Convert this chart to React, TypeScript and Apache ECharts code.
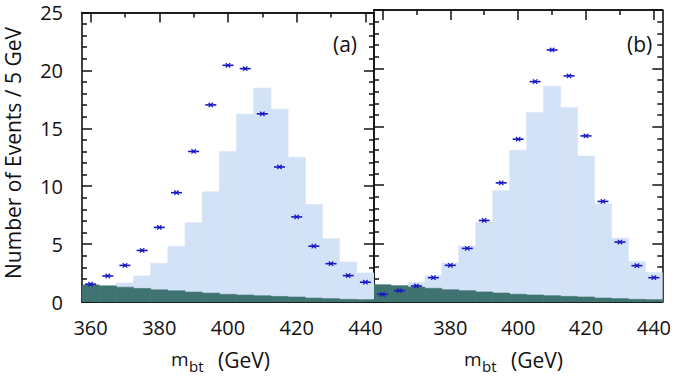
import React, { useEffect, useRef } from "react";
import * as echarts from "echarts";

const BIN_CENTERS = [360, 365, 370, 375, 380, 385, 390, 395, 400, 405, 410, 415, 420, 425, 430, 435, 440];
const TOTAL_MC = [1.4, 1.3, 1.65, 2.25, 3.34, 4.79, 6.84, 9.52, 13.0, 16.22, 18.47, 16.65, 12.49, 8.41, 5.47, 3.45, 2.51];
const BACKGROUND = [1.48, 1.4, 1.28, 1.17, 1.05, 0.97, 0.86, 0.77, 0.66, 0.6, 0.54, 0.48, 0.43, 0.34, 0.29, 0.23, 0.2];
const DATA_A = [1.54, 2.25, 3.16, 4.45, 6.44, 9.44, 13.0, 17.02, 20.44, 20.15, 16.25, 11.66, 7.35, 4.82, 3.31, 2.28, 1.71];
const DATA_B = [0.66, 0.97, 1.37, 2.08, 3.14, 4.59, 6.98, 10.2, 13.94, 18.87, 21.58, 19.36, 14.22, 8.61, 5.13, 3.11, 2.08];
const X_MAJOR = [360, 380, 400, 420, 440];
const X_MINOR = [370, 390, 410, 430];
const X_LABELS_A = [360, 380, 400, 420, 440];
const X_LABELS_B = [380, 400, 420, 440];
const BIN_WIDTH = 5;

const FONT = "Open Sans";
const LIGHT = "#d3e2f7";
const DARK = "#3e7371";
const BLUE = "#1616c4";

export default function App() {
  const ref = useRef<HTMLDivElement>(null);
  useEffect(() => {
    document.body.style.margin = "0";
    const chart = echarts.init(ref.current!, null, { renderer: "svg" });
    const grids = [
      { left: 82, top: 10, width: 292, height: 292 },
      { left: 374, top: 10, width: 292, height: 292 },
    ];
    const axisLine = { show: true, lineStyle: { color: "#111", width: 1.6 } };
    const xAxes: any[] = [];
    const yAxes: any[] = [];
    [0, 1].forEach((g) => {
      const labels = g === 0 ? X_LABELS_A : X_LABELS_B;
      const base = {
        gridIndex: g,
        type: "value",
        min: BIN_CENTERS[0] - BIN_WIDTH / 2,
        max: BIN_CENTERS[BIN_CENTERS.length - 1] + BIN_WIDTH / 2,
        axisLine,
        splitLine: { show: false },
      };
      xAxes.push({
        ...base,
        position: "bottom",
        axisTick: { show: true, inside: true, length: 10, customValues: X_MAJOR, lineStyle: { color: "#111", width: 1.5 } },
        axisLabel: { show: true, customValues: labels, fontSize: 20, fontFamily: FONT, color: "#111", margin: 15 },
      });
      xAxes.push({
        ...base,
        position: "bottom",
        axisTick: { show: true, inside: true, length: 5, customValues: X_MINOR, lineStyle: { color: "#111", width: 1.5 } },
        axisLabel: { show: false },
      });
      xAxes.push({
        ...base,
        position: "top",
        axisTick: { show: true, inside: true, length: 10, customValues: X_MAJOR, lineStyle: { color: "#111", width: 1.5 } },
        axisLabel: { show: false },
      });
      xAxes.push({
        ...base,
        position: "top",
        axisTick: { show: true, inside: true, length: 5, customValues: X_MINOR, lineStyle: { color: "#111", width: 1.5 } },
        axisLabel: { show: false },
      });
      ["left", "right"].forEach((pos) => {
        yAxes.push({
          gridIndex: g,
          type: "value",
          position: pos,
          min: 0,
          max: 25,
          interval: 5,
          axisLine,
          splitLine: { show: false },
          axisTick: { show: true, inside: true, length: 10, lineStyle: { color: "#111", width: 1.5 } },
          minorTick: { show: true, splitNumber: 5, length: 5, lineStyle: { color: "#111", width: 1.5 } },
          minorSplitLine: { show: false },
          axisLabel: {
            show: g === 0 && pos === "left",
            fontSize: 20,
            fontFamily: FONT,
            color: "#111",
            margin: 19,
            lineHeight: 20,
            padding: [5, 0, 0, 0],
          },
        });
      });
    });

    const histSeries = (g: number, values: number[], color: string) => ({
      type: "custom",
      xAxisIndex: g * 4,
      yAxisIndex: g * 2,
      clip: true,
      data: BIN_CENTERS.map((c, i) => [c, values[i]]),
      renderItem: (params: any, api: any) => {
        const x = api.value(0);
        const v = api.value(1);
        const p1 = api.coord([x - BIN_WIDTH / 2, v]);
        const p2 = api.coord([x + BIN_WIDTH / 2, 0]);
        return {
          type: "rect",
          shape: { x: p1[0], y: p1[1], width: p2[0] - p1[0], height: p2[1] - p1[1] },
          style: { fill: color, stroke: color, lineWidth: 0.6 },
        };
      },
    });

    const pointSeries = (g: number, values: number[]) => ({
      type: "custom",
      xAxisIndex: g * 4,
      yAxisIndex: g * 2,
      data: BIN_CENTERS.map((c, i) => [c, values[i]]),
      z: 10,
      renderItem: (params: any, api: any) => {
        const p = api.coord([api.value(0), api.value(1)]);
        const st = { stroke: BLUE, lineWidth: 1.6 };
        const s = 2.2;
        return {
          type: "group",
          children: [
            { type: "line", shape: { x1: p[0] - 5.5, y1: p[1], x2: p[0] + 5.5, y2: p[1] }, style: st },
            { type: "line", shape: { x1: p[0] - s, y1: p[1] - s, x2: p[0] + s, y2: p[1] + s }, style: { stroke: BLUE, lineWidth: 1.2 } },
            { type: "line", shape: { x1: p[0] - s, y1: p[1] + s, x2: p[0] + s, y2: p[1] - s }, style: { stroke: BLUE, lineWidth: 1.2 } },
          ],
        };
      },
    });

    const txt = (x: number, y: number, text: string, size: number, extra: any = {}) => ({
      type: "text",
      x,
      y,
      style: { text, fontSize: size, fontFamily: FONT, fill: "#111", align: "left", verticalAlign: "middle", ...extra },
    });

    const yTitle: any = txt(13, 153, "Number of Events / 5 GeV", 21, { align: "center" });
    yTitle.rotation = Math.PI / 2;

    chart.setOption({
      animation: false,
      backgroundColor: "#fff",
      grid: grids,
      xAxis: xAxes,
      yAxis: yAxes,
      series: [
        histSeries(0, TOTAL_MC, LIGHT),
        histSeries(0, BACKGROUND, DARK),
        pointSeries(0, DATA_A),
        histSeries(1, TOTAL_MC, LIGHT),
        histSeries(1, BACKGROUND, DARK),
        pointSeries(1, DATA_B),
      ],
      graphic: [
        yTitle,
        txt(171, 359, "m", 19),
        txt(189, 366, "bt", 15),
        txt(218, 360, "(GeV)", 21),
        txt(464, 359, "m", 19),
        txt(482, 366, "bt", 15),
        txt(511, 360, "(GeV)", 21),
        txt(333, 44, "(a)", 21),
        txt(627, 44, "(b)", 21),
      ],
    });
    return () => chart.dispose();
  }, []);
  return <div ref={ref} style={{ width: 674, height: 378 }} />;
}
